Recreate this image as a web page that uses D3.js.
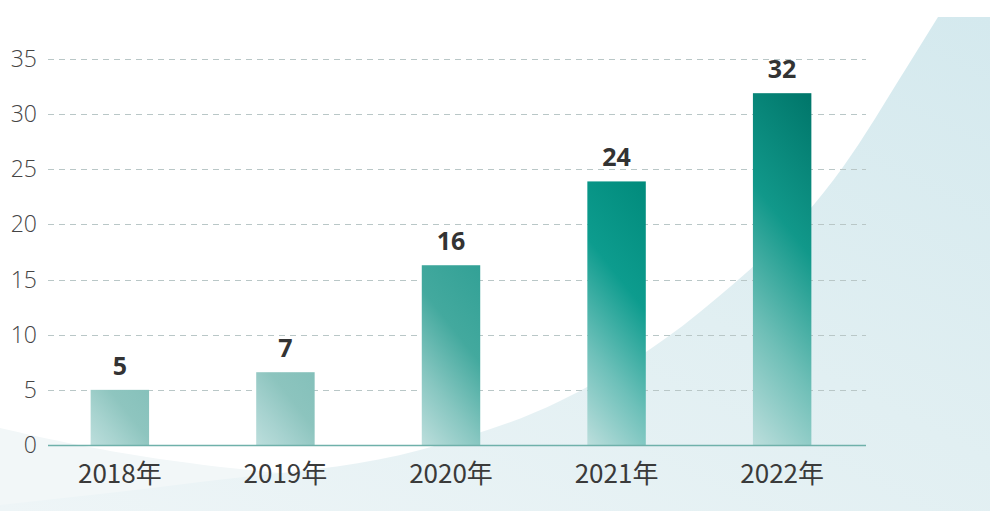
<!DOCTYPE html>
<html>
<head>
<meta charset="utf-8">
<script src="https://cdn.jsdelivr.net/npm/d3@7/dist/d3.min.js"></script>
<style>
  html, body { margin: 0; padding: 0; background: #ffffff; }
  svg { display: block; }
</style>
</head>
<body>
<svg id="chart" width="990" height="511"></svg>
<script>
// ---- data ----
const categories = ["2018年", "2019年", "2020年", "2021年", "2022年"];
const values = [5, 6.6, 16.3, 23.9, 31.9];
const valueLabels = ["5", "7", "16", "24", "32"];
const yTicks = [0, 5, 10, 15, 20, 25, 30, 35];

// ---- setup ----
const W = 990, H = 511;
const svg = d3.select("#chart");
const defs = svg.append("defs");

const x = d3.scaleBand().domain(categories).range([36, 866]).paddingInner(0.647).paddingOuter(0.33);
const y = d3.scaleLinear().domain([0, 35]).range([445, 59]);

// ---- decorative background ----
const bgGrad = defs.append("linearGradient").attr("id", "bgGrad")
  .attr("x1", "0").attr("y1", "1").attr("x2", "1").attr("y2", "0");
bgGrad.append("stop").attr("offset", "0").attr("stop-color", "#eef5f7");
bgGrad.append("stop").attr("offset", "0.55").attr("stop-color", "#e1eff2");
bgGrad.append("stop").attr("offset", "1").attr("stop-color", "#d4e9ee");

const faint = d3.line().curve(d3.curveBasis);
svg.append("path")
  .attr("d", faint([[0, 428], [120, 455], [300, 478], [600, 490], [990, 490]]) + `L${W},${H}L0,${H}Z`)
  .attr("fill", "#f2f7f8");

const curve = d3.line().curve(d3.curveMonotoneX);
const bgPts = [[0, 505], [200, 482], [420, 450], [560, 401], [700, 312], [843, 167], [907, 67], [938, 17]];
svg.append("path")
  .attr("d", curve(bgPts) + `L${W},17L${W},${H}L0,${H}Z`)
  .attr("fill", "url(#bgGrad)");

// ---- grid ----
svg.append("g").selectAll("line")
  .data(yTicks.filter(d => d > 0))
  .join("line")
  .attr("x1", 48).attr("x2", 866)
  .attr("y1", d => Math.round(y(d)) + 0.5).attr("y2", d => Math.round(y(d)) + 0.5)
  .attr("stroke", "#b9c7c7")
  .attr("stroke-width", 1)
  .attr("stroke-dasharray", "6,5");

// ---- bar gradients ----
const topColor = d3.scaleLinear().domain([5, 7, 16, 24, 32])
  .range(["#86c1bb", "#84c0ba", "#35a297", "#008b7c", "#00766a"]);
const hiColor = d3.scaleLinear().domain([5, 7, 16, 24, 32])
  .range(["#8ec5bf", "#8cc4be", "#45aa9f", "#0c9c8e", "#11988a"]);
const light = "#bcdedc";

values.forEach((v, i) => {
  const x0 = x(categories[i]), w = x.bandwidth();
  const yb = y(0), yt = y(v);
  const nx = 0.78, ny = -0.62;
  const proj = w * nx + (yb - yt) * (-ny);
  const g = defs.append("linearGradient").attr("id", "barGrad" + i)
    .attr("gradientUnits", "userSpaceOnUse")
    .attr("x1", x0).attr("y1", yb)
    .attr("x2", x0 + nx * proj).attr("y2", yb + ny * proj);
  const hi = d3.color(hiColor(v)), tp = d3.color(topColor(v));
  g.append("stop").attr("offset", "0").attr("stop-color", light);
  g.append("stop").attr("offset", "0.3").attr("stop-color", d3.interpolateRgb(light, hi)(0.45));
  g.append("stop").attr("offset", "0.62").attr("stop-color", hi);
  g.append("stop").attr("offset", "1").attr("stop-color", tp);
});

// ---- bars ----
svg.append("g").selectAll("rect")
  .data(values)
  .join("rect")
  .attr("x", (d, i) => x(categories[i]))
  .attr("width", x.bandwidth())
  .attr("y", d => y(d))
  .attr("height", d => y(0) - y(d))
  .attr("fill", (d, i) => `url(#barGrad${i})`);

// ---- axis line ----
svg.append("line")
  .attr("x1", 48).attr("x2", 866)
  .attr("y1", y(0) + 0.5).attr("y2", y(0) + 0.5)
  .attr("stroke", "#6fb1aa").attr("stroke-width", 1.6);

// ---- y tick labels ----
svg.append("g").selectAll("text")
  .data(yTicks)
  .join("text")
  .attr("x", 37)
  .attr("y", d => y(d) + 8)
  .attr("text-anchor", "end")
  .attr("font-family", "'Open Sans', 'Noto Sans', sans-serif")
  .attr("font-weight", 300)
  .attr("font-size", 23)
  .attr("fill", "#444")
  .text(d => d);

// ---- x labels ----
svg.append("g").selectAll("text")
  .data(categories)
  .join("text")
  .attr("x", d => x(d) + x.bandwidth() / 2)
  .attr("y", 483)
  .attr("text-anchor", "middle")
  .attr("font-family", "'Noto Sans CJK SC', 'Noto Sans', sans-serif")
  .attr("font-weight", 400)
  .attr("font-size", 26)
  .attr("fill", "#3a3a3a")
  .text(d => d);

// ---- value labels ----
svg.append("g").selectAll("text")
  .data(values)
  .join("text")
  .attr("x", (d, i) => x(categories[i]) + x.bandwidth() / 2)
  .attr("y", d => y(d) - 15)
  .attr("text-anchor", "middle")
  .attr("font-family", "'Open Sans', 'Noto Sans', sans-serif")
  .attr("font-weight", 700)
  .attr("font-size", 25)
  .attr("fill", "#333")
  .text((d, i) => valueLabels[i]);
</script>
</body>
</html>
